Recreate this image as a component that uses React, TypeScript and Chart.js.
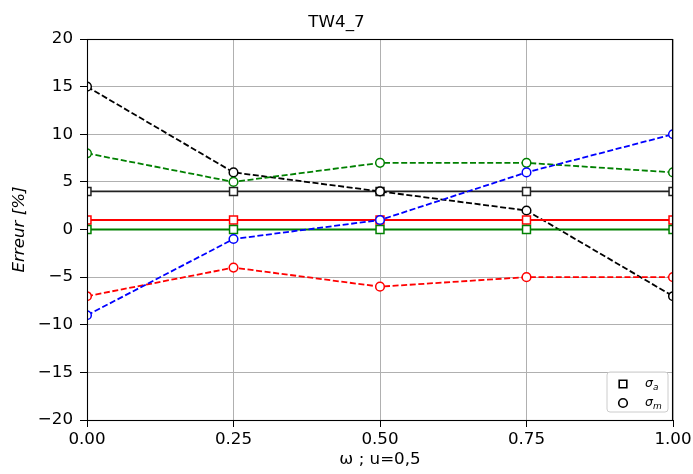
import React, { useEffect, useRef } from "react";
import { Chart, registerables } from "chart.js";

Chart.register(...registerables);

const xValues = [0, 0.25, 0.5, 0.75, 1.0];
const blackSigmaA = [4, 4, 4, 4, 4];
const blackSigmaM = [15, 6, 4, 2, -7];
const redSigmaA = [1, 1, 1, 1, 1];
const redSigmaM = [-7, -4, -6, -5, -5];
const greenSigmaA = [0, 0, 0, 0, 0];
const greenSigmaM = [8, 5, 7, 7, 6];
const blueSigmaM = [-9, -1, 1, 6, 10];
const yTicks = [-20, -15, -10, -5, 0, 5, 10, 15, 20];
const xTicks = [0, 0.25, 0.5, 0.75, 1.0];

const FONT = "'DejaVu Sans', sans-serif";
const FS = 16.7;

const pts = (ys: number[]) => xValues.map((x, i) => ({ x, y: ys[i] }));

function makeSet(ys: number[], color: string, kind: "a" | "m", order: number) {
  const isA = kind === "a";
  return {
    data: pts(ys),
    borderColor: color,
    backgroundColor: "#ffffff",
    borderWidth: 1.8,
    borderDash: isA ? [] : [6, 2.6],
    pointStyle: isA ? "rect" : "circle",
    pointRadius: isA ? 5.6 : 4.3,
    pointBorderWidth: 1.5,
    pointBorderColor: color,
    pointBackgroundColor: "#ffffff",
    pointHoverRadius: isA ? 5.6 : 4.3,
    tension: 0,
    clip: 0,
    order,
  };
}

const framePlugin = {
  id: "frame",
  beforeDatasetsDraw(chart: any) {
    const { left, right, top, bottom } = chart.chartArea;
    const ctx = chart.ctx;
    ctx.save();
    ctx.beginPath();
    ctx.rect(left, top, right - left, bottom - top);
    ctx.clip();
  },
  afterDatasetsDraw(chart: any) {
    const { left, right, top, bottom } = chart.chartArea;
    const ctx = chart.ctx;
    ctx.restore();
    ctx.save();
    ctx.strokeStyle = "#000";
    ctx.lineWidth = 1.1;
    ctx.strokeRect(Math.round(left) + 0.5, Math.round(top) + 0.5, Math.round(right - left) - 1, Math.round(bottom - top));
    ctx.restore();
  },
};

const legendPlugin = {
  id: "customLegend",
  afterDraw(chart: any) {
    const { right, bottom } = chart.chartArea;
    const ctx = chart.ctx;
    const x = right - 66;
    const y = bottom - 48;
    const w = 61;
    const h = 40;
    const r = 3;
    ctx.save();
    ctx.beginPath();
    ctx.moveTo(x + r, y);
    ctx.lineTo(x + w - r, y);
    ctx.quadraticCurveTo(x + w, y, x + w, y + r);
    ctx.lineTo(x + w, y + h - r);
    ctx.quadraticCurveTo(x + w, y + h, x + w - r, y + h);
    ctx.lineTo(x + r, y + h);
    ctx.quadraticCurveTo(x, y + h, x, y + h - r);
    ctx.lineTo(x, y + r);
    ctx.quadraticCurveTo(x, y, x + r, y);
    ctx.closePath();
    ctx.fillStyle = "rgba(255,255,255,0.8)";
    ctx.fill();
    ctx.strokeStyle = "#cccccc";
    ctx.lineWidth = 1;
    ctx.stroke();

    const mx = x + 16;
    const y1 = y + 12;
    const y2 = y + 31;
    ctx.lineWidth = 1.6;
    ctx.strokeStyle = "#000";
    ctx.fillStyle = "#fff";
    ctx.beginPath();
    ctx.rect(mx - 3.8, y1 - 3.8, 7.6, 7.6);
    ctx.fill();
    ctx.stroke();
    ctx.beginPath();
    ctx.arc(mx, y2, 4.3, 0, Math.PI * 2);
    ctx.fill();
    ctx.stroke();

    ctx.fillStyle = "#000";
    ctx.textBaseline = "alphabetic";
    ctx.textAlign = "left";
    const tx = x + 38;
    const drawSig = (sub: string, yy: number) => {
      ctx.font = `italic 12.5px ${FONT}`;
      ctx.fillText("σ", tx, yy + 3);
      const sw = ctx.measureText("σ").width;
      ctx.font = `italic 9px ${FONT}`;
      ctx.fillText(sub, tx + sw, yy + 5.5);
    };
    drawSig("a", y1);
    drawSig("m", y2);
    ctx.restore();
  },
};

export default function App() {
  const ref = useRef<HTMLCanvasElement | null>(null);
  useEffect(() => {
    document.body.style.margin = "0";
    const canvas = ref.current!;
    const chart = new Chart(canvas, {
      type: "line",
      data: {
        datasets: [
          makeSet(blueSigmaM, "#0000ff", "m", 1),
          makeSet(greenSigmaM, "#008000", "m", 2),
          makeSet(greenSigmaA, "#008000", "a", 3),
          makeSet(redSigmaM, "#ff0000", "m", 4),
          makeSet(redSigmaA, "#ff0000", "a", 5),
          makeSet(blackSigmaM, "#000000", "m", 6),
          makeSet(blackSigmaA, "#222222", "a", 7),
        ] as any,
      },
      options: {
        animation: false,
        responsive: false,
        maintainAspectRatio: false,
        events: [],
        layout: { padding: { left: 0, right: 20, top: 0, bottom: 0 } },
        plugins: {
          legend: { display: false },
          tooltip: { enabled: false },
          title: {
            display: true,
            text: "TW4_7",
            color: "#000",
            font: { family: FONT, size: FS, weight: "normal" },
            padding: { top: 13, bottom: 6 },
          },
        },
        scales: {
          x: {
            type: "linear",
            min: 0,
            max: 1,
            afterBuildTicks: (scale: any) => {
              scale.ticks = xTicks.map((v) => ({ value: v }));
            },
            afterFit: (scale: any) => {
              scale.height = 54;
              scale.paddingLeft = 0;
              scale.paddingRight = 0;
            },
            ticks: {
              color: "#000",
              font: { family: FONT, size: FS },
              padding: 3,
              maxRotation: 0,
              autoSkip: false,
              callback: (v: any) => Number(v).toFixed(2),
            },
            grid: {
              color: "#b0b0b0",
              lineWidth: 1,
              tickColor: "#000",
              tickLength: 7,
              drawTicks: true,
            },
            border: { display: true, color: "#000", width: 1 },
            title: {
              display: true,
              text: "ω ; u=0,5",
              color: "#000",
              font: { family: FONT, size: FS },
              padding: { top: 0, bottom: 4 },
            },
          },
          y: {
            type: "linear",
            min: -20,
            max: 20,
            afterBuildTicks: (scale: any) => {
              scale.ticks = yTicks.map((v) => ({ value: v }));
            },
            afterFit: (scale: any) => {
              scale.width = 87;
              scale.paddingTop = 0;
              scale.paddingBottom = 0;
            },
            ticks: {
              color: "#000",
              font: { family: FONT, size: FS },
              padding: 7,
              autoSkip: false,
              callback: (v: any) => {
                const n = Number(v);
                return n < 0 ? "\u2212" + Math.abs(n) : String(n);
              },
            },
            grid: {
              color: "#b0b0b0",
              lineWidth: 1,
              tickColor: "#000",
              tickLength: 7,
              drawTicks: true,
            },
            border: { display: true, color: "#000", width: 1 },
            title: {
              display: true,
              text: "Erreur [%]",
              color: "#000",
              font: { family: FONT, size: FS, style: "italic" },
              padding: { top: 10, bottom: 0 },
            },
          },
        },
      },
      plugins: [framePlugin, legendPlugin],
    });
    return () => chart.destroy();
  }, []);
  return (
    <div style={{ position: "absolute", left: 0, top: 0, width: 693, height: 474, background: "#fff" }}>
      <canvas ref={ref} width={693} height={474} style={{ display: "block", width: 693, height: 474 }} />
    </div>
  );
}
